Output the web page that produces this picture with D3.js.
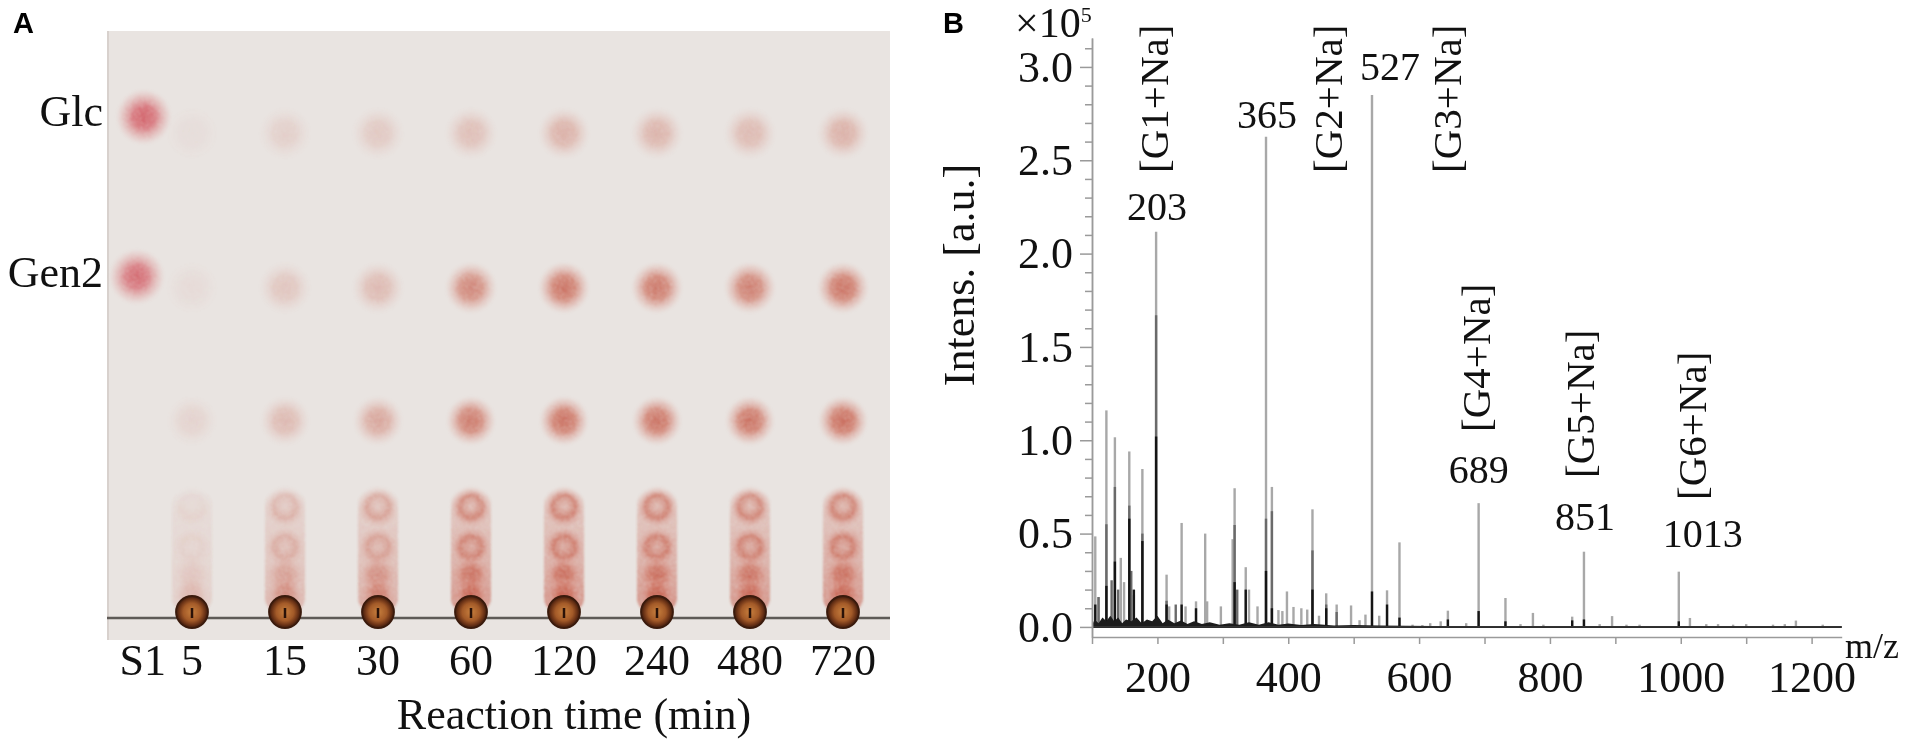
<!DOCTYPE html>
<html><head><meta charset="utf-8">
<script src="https://cdn.jsdelivr.net/npm/d3@7"></script>
<style>body{margin:0;background:#fff}</style>
</head><body>
<svg id="c" width="1907" height="748"></svg>
<script>
// ================= DATA =================
// Panel A : TLC plate
const standardLane = "S1";
const lanes = ["5","15","30","60","120","240","480","720"];
const rowNames = ["Glc","Gen2","G3","G4","G5","G6","G7+"];
const rowRf = [0.824, 0.558, 0.329, 0.181, 0.112, 0.064, 0.03];
const standardRows = ["Glc","Gen2"];
const standardRf = [0.852, 0.577];
const standardIntensity = [0.85, 0.8];
const intGlc  = [0.04, 0.12, 0.16, 0.22, 0.30, 0.28, 0.25, 0.30];
const intGen2 = [0.05, 0.18, 0.25, 0.55, 0.66, 0.63, 0.60, 0.66];
const intG3   = [0.10, 0.25, 0.36, 0.62, 0.67, 0.66, 0.66, 0.70];
const intG4   = [0.06, 0.25, 0.35, 0.55, 0.58, 0.58, 0.55, 0.58];
const intG5   = [0.06, 0.25, 0.32, 0.55, 0.58, 0.58, 0.55, 0.58];
const intG6   = [0.10, 0.28, 0.38, 0.60, 0.62, 0.62, 0.60, 0.62];
const intSmear= [0.18, 0.40, 0.50, 0.70, 0.72, 0.72, 0.70, 0.72];
const laneTitle = "Reaction time (min)";

// Panel B : MALDI spectrum  [m/z, intensity x1e5]
const spectrumLight = [[105,0.485],[110,0.16],[122,1.16],[135,1.016],[144,0.37],[149,0.24],[157,0.94],[164,0.17],[177,0.846],[198,2.117],[214,0.28],[218,0.11],[237,0.557],[243,0.11],[259,0.137],[273,0.50],[276,0.137],[297,0.11],[315,0.47],[318,0.743],[335,0.32],[340,0.20],[353,0.11],[366,2.626],[375,0.75],[385,0.09],[391,0.085],[398,0.19],[408,0.107],[420,0.10],[429,0.093],[437,0.63],[447,0.06],[458,0.18],[474,0.12],[496,0.115],[509,0.036],[518,0.066],[528,2.85],[539,0.06],[551,0.196],[570,0.453],[590,0.012],[605,0.01],[617,0.02],[633,0.03],[644,0.087],[672,0.02],[691,0.663],[732,0.155],[755,0.015],[774,0.075],[790,0.012],[834,0.055],[852,0.403],[876,0.015],[895,0.058],[917,0.012],[937,0.012],[997,0.296],[1014,0.048],[1039,0.015],[1057,0.015],[1080,0.012],[1100,0.015],[1141,0.012],[1159,0.015],[1176,0.034],[1217,0.012]];
const spectrumMid = [[110,0.16],[122,0.55],[130,0.25],[135,0.75],[140,0.2],[157,0.65],[160,0.3],[177,0.5],[198,1.67],[214,0.14],[228,0.12],[318,0.546],[322,0.2],[366,0.58],[375,0.62],[437,0.41],[458,0.12],[474,0.08]];
const spectrumDark = [[105,0.12],[122,0.22],[135,0.35],[157,0.58],[164,0.2],[177,0.46],[198,1.02],[214,0.12],[237,0.12],[259,0.1],[318,0.24],[335,0.2],[366,0.30],[375,0.1],[437,0.2],[458,0.1],[528,0.19],[551,0.12],[570,0.05],[644,0.04],[691,0.085],[732,0.03],[834,0.035],[852,0.04],[997,0.03]];
const baselineNoise = [[100,0.01],[104,0.04],[110,0.02],[116,0.05],[122,0.03],[128,0.06],[134,0.03],[140,0.05],[146,0.02],[152,0.04],[160,0.03],[168,0.05],[176,0.02],[184,0.04],[192,0.03],[200,0.06],[208,0.02],[216,0.04],[226,0.02],[236,0.035],[246,0.015],[256,0.03],[268,0.015],[280,0.025],[295,0.012],[310,0.02],[325,0.012],[340,0.025],[355,0.012],[370,0.025],[385,0.012],[400,0.018],[420,0.01],[440,0.015],[470,0.008],[500,0.01],[540,0.008],[580,0.006],[620,0.005],[680,0.005],[750,0.004],[850,0.004],[950,0.003],[1050,0.003],[1150,0.003],[1246,0.003]];
const labelledPeakMz = [198, 366, 528, 691, 852, 997];
const peakNumbers = ["203","365","527","689","851","1013"];
const peakIons = ["[G1+Na]","[G2+Na]","[G3+Na]","[G4+Na]","[G5+Na]","[G6+Na]"];
const yTicks = [0, 0.5, 1.0, 1.5, 2.0, 2.5, 3.0];
const xTicks = [100,200,300,400,500,600,700,800,900,1000,1100,1200];
const xTickLabels = [200,400,600,800,1000,1200];

// ================= DRAW =================
const SERIF = "'Liberation Serif','Times New Roman',serif";
const SANS = "'Liberation Sans',Arial,sans-serif";
const svg = d3.select("#c");
svg.append("rect").attr("width",1907).attr("height",748).attr("fill","#fff");
const defs = svg.append("defs");
function radial(id, stops){
  const g = defs.append("radialGradient").attr("id", id);
  stops.forEach(s => g.append("stop").attr("offset", s[0]).attr("stop-color", s[1]).attr("stop-opacity", s[2]));
}
radial("spotStd",  [["0%","#cc3e48",1],["40%","#d2505a",0.9],["72%","#da7a7c",0.45],["100%","#e4a0a0",0]]);
radial("spotLane", [["0%","#c25240",1],["45%","#c9604c",0.85],["75%","#d6877a",0.4],["100%","#e0a89c",0]]);
radial("spotRing", [["0%","#d6887a",0.35],["55%","#c4543f",0.9],["80%","#d6877a",0.4],["100%","#e0a89c",0]]);
radial("origin",   [["0%","#c8803e",1],["55%","#a35a28",1],["82%","#6a3216",1],["100%","#3a1a0c",1]]);
const lg = defs.append("linearGradient").attr("id","smear").attr("x1",0).attr("y1",0).attr("x2",0).attr("y2",1);
[["0%",0],["20%",0.35],["60%",0.55],["100%",0.9]].forEach(s => lg.append("stop").attr("offset",s[0]).attr("stop-color","#c45644").attr("stop-opacity",s[1]));

// ---- Panel A ----
const plate = {x0:107, x1:890, y0:31, y1:640};
const f = defs.append("filter").attr("id","grain").attr("filterUnits","userSpaceOnUse")
  .attr("x",plate.x0).attr("y",plate.y0).attr("width",plate.x1-plate.x0).attr("height",plate.y1-plate.y0);
f.append("feTurbulence").attr("type","fractalNoise").attr("baseFrequency",0.7).attr("numOctaves",2).attr("seed",5).attr("result","noise");
f.append("feColorMatrix").attr("in","noise").attr("type","matrix")
  .attr("values","0 0 0 0 0  0 0 0 0 0  0 0 0 0 0  0 0 0 1.9 -0.05").attr("result","mask");
f.append("feComposite").attr("in","SourceGraphic").attr("in2","mask").attr("operator","in").attr("result","g1");
f.append("feGaussianBlur").attr("in","g1").attr("stdDeviation",0.8);

const gA = svg.append("g");
gA.append("rect").attr("x",plate.x0).attr("y",plate.y0).attr("width",plate.x1-plate.x0).attr("height",plate.y1-plate.y0).attr("fill","#e9e4e1");
gA.append("line").attr("x1",plate.x0+1).attr("x2",plate.x0+1).attr("y1",plate.y0).attr("y2",plate.y1).attr("stroke","#d8d1cd").attr("stroke-width",2);

const xLane = d3.scalePoint().domain(lanes).range([192, 843]);
const xStd = xLane(lanes[0]) - 0.55 * xLane.step();
const yRf = d3.scaleLinear().domain([0, 1]).range([612, 31]);
const laneInt = [intGlc, intGen2, intG3, intG4, intG5, intG6, intSmear];
const rowRadius = [26, 26, 25, 21, 20, 19, 18];
const rowGrad = ["spotLane","spotLane","spotLane","spotRing","spotRing","spotLane","spotLane"];

const spots = gA.append("g").attr("filter","url(#grain)");
spots.selectAll("rect.smear").data(lanes).join("rect")
  .attr("x", d => xLane(d) - 20).attr("width", 40)
  .attr("y", yRf(0.21)).attr("height", yRf(0) - yRf(0.21))
  .attr("rx", 14)
  .attr("fill","url(#smear)")
  .attr("opacity", (d,i) => intSmear[i]);
const spotData = [];
lanes.forEach((ln, i) => rowNames.forEach((r, j) => spotData.push({lane: ln, row: j, v: laneInt[j][i]})));
spots.selectAll("circle.spot").data(spotData).join("circle")
  .attr("cx", d => xLane(d.lane)).attr("cy", d => yRf(rowRf[d.row]))
  .attr("r", d => rowRadius[d.row])
  .attr("fill", d => `url(#${rowGrad[d.row]})`)
  .attr("opacity", d => Math.min(1, d.v * 1.3));
spots.selectAll("circle.std").data(standardRows).join("circle")
  .attr("cx", (d,i) => xStd + (i ? -4 : 3)).attr("cy", (d,i) => yRf(standardRf[i]))
  .attr("r", 28).attr("fill","url(#spotStd)").attr("opacity",(d,i)=>standardIntensity[i]);

gA.append("line").attr("x1",plate.x0).attr("x2",plate.x1).attr("y1",yRf(0)+6).attr("y2",yRf(0)+6)
  .attr("stroke","#5e5a56").attr("stroke-width",2.6);
gA.selectAll("circle.origin").data(lanes).join("circle")
  .attr("cx", d => xLane(d)).attr("cy", yRf(0))
  .attr("r", 16).attr("fill","url(#origin)").attr("stroke","#3a1a0c").attr("stroke-width",1.8);
gA.selectAll("line.mark").data(lanes).join("line")
  .attr("x1", d => xLane(d)).attr("x2", d => xLane(d)).attr("y1", yRf(0)-4).attr("y2", yRf(0)+6)
  .attr("stroke","#2a1208").attr("stroke-width",2.5);

const laneLabels = [standardLane].concat(lanes);
gA.selectAll("text.lane").data(laneLabels).join("text")
  .attr("x", (d,i) => i === 0 ? xStd + 2 : xLane(d)).attr("y", 675)
  .attr("text-anchor","middle").attr("font-family",SERIF).attr("font-size",44).attr("fill","#111").text(d => d);
gA.append("text").attr("x",574).attr("y",729).attr("text-anchor","middle")
  .attr("font-family",SERIF).attr("font-size",44).attr("fill","#111").text(laneTitle);
gA.selectAll("text.row").data(standardRows).join("text")
  .attr("x",103).attr("y",(d,i)=> yRf(standardRf[i]) + 9 + (i? 1:0))
  .attr("text-anchor","end").attr("font-family",SERIF).attr("font-size",44).attr("fill","#111").text(d=>d);
svg.append("text").attr("x",13).attr("y",33).attr("font-family",SANS).attr("font-weight","bold").attr("font-size",29).text("A");

// ---- Panel B ----
const xMz = d3.scaleLinear().domain([100, 1246]).range([1092, 1841.7]);
const yI = d3.scaleLinear().domain([-0.054, 3.155]).range([637, 38]);
const gB = svg.append("g");

function drawSticks(data, color, w){
  gB.append("g").selectAll("line").data(data).join("line")
    .attr("x1", d => xMz(d[0])).attr("x2", d => xMz(d[0]))
    .attr("y1", yI(0)).attr("y2", d => yI(d[1]))
    .attr("stroke", color).attr("stroke-width", w);
}
drawSticks(spectrumLight, "#a8a8a8", 2.4);
drawSticks(spectrumMid, "#6a6a6a", 2.4);
drawSticks(spectrumDark, "#151515", 2.4);
gB.append("path").datum(baselineNoise)
  .attr("d", d3.area().x(d => xMz(d[0])).y0(yI(0)+1).y1(d => yI(d[1])))
  .attr("fill","#1c1c1c");
gB.append("line").attr("x1",xMz(100)).attr("x2",xMz(1246)).attr("y1",yI(0)).attr("y2",yI(0))
  .attr("stroke","#333").attr("stroke-width",1.6);

const axCol = "#9a9a9a";
const yMinor = d3.range(1, 32).map(i => i / 10).filter(v => Math.abs(v*2 - Math.round(v*2)) > 1e-6);
const gyMinor = gB.append("g").attr("transform",`translate(${xMz(100)},0)`)
  .call(d3.axisLeft(yI).tickValues(yMinor).tickSize(7).tickSizeOuter(0).tickFormat(""));
const gy = gB.append("g").attr("transform",`translate(${xMz(100)},0)`)
  .call(d3.axisLeft(yI).tickValues(yTicks).tickSize(12).tickSizeOuter(0).tickPadding(7).tickFormat(d3.format(".1f")));
const gx = gB.append("g").attr("transform",`translate(0,${yI.range()[0]})`)
  .call(d3.axisBottom(xMz).tickValues(xTicks).tickSize(7).tickSizeOuter(0).tickPadding(17)
    .tickFormat(d => xTickLabels.includes(d) ? d : ""));
[gyMinor, gy, gx].forEach(g => {
  g.selectAll("path,line").attr("stroke", axCol).attr("stroke-width", 1.5);
  g.selectAll("text").attr("font-family", SERIF).attr("font-size", 44).attr("fill", "#111");
});
gB.append("text").attr("transform","translate(974,275) rotate(-90)").attr("text-anchor","middle")
  .attr("font-family",SERIF).attr("font-size",44).attr("fill","#111").text("Intens. [a.u.]");
const mult = gB.append("text").attr("x",1015).attr("y",37).attr("font-family",SERIF).attr("font-size",42).attr("fill","#111");
mult.append("tspan").text("\u00d710");
mult.append("tspan").attr("font-size",22).attr("dy",-15).text("5");
gB.append("text").attr("x",1845).attr("y",658).attr("font-family",SERIF).attr("font-size",36).attr("fill","#111").text("m/z");
svg.append("text").attr("x",943).attr("y",33).attr("font-family",SANS).attr("font-weight","bold").attr("font-size",29).text("B");

const annLayout = [
  {numDx: 1,  numGap: 12, ionDx: 1,  ionBottom: 173},
  {numDx: 1,  numGap: 9,  ionDx: 65, ionBottom: 173},
  {numDx: 18, numGap: 15, ionDx: 79, ionBottom: 173},
  {numDx: 0,  numGap: 20, ionDx: 1,  ionBottom: 432},
  {numDx: 1,  numGap: 22, ionDx: 0,  ionBottom: 478},
  {numDx: 24, numGap: 25, ionDx: 17, ionBottom: 500}
];
const peakH = labelledPeakMz.map(m => spectrumLight.find(d => d[0] === m)[1]);
gB.selectAll("text.num").data(peakNumbers).join("text")
  .attr("x", (d,i) => xMz(labelledPeakMz[i]) + annLayout[i].numDx)
  .attr("y", (d,i) => yI(peakH[i]) - annLayout[i].numGap)
  .attr("text-anchor","middle").attr("font-family",SERIF).attr("font-size",40).attr("fill","#111").text(d => d);
gB.selectAll("text.ion").data(peakIons).join("text")
  .attr("transform", (d,i) => `translate(${xMz(labelledPeakMz[i]) + annLayout[i].ionDx + 10.5},${annLayout[i].ionBottom}) rotate(-90)`)
  .attr("text-anchor","start").attr("font-family",SERIF).attr("font-size",41).attr("fill","#111").text(d => d);
</script>
</body></html>
